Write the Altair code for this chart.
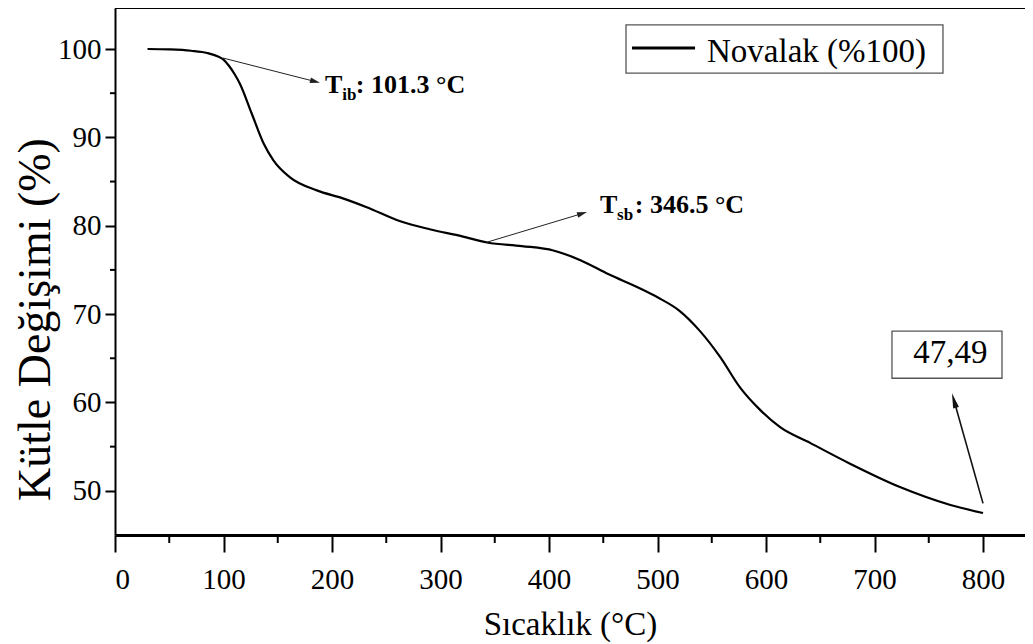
import math
import altair as alt
import pandas as pd

# ---- data ----
temp = [30, 50, 70, 85, 95, 100, 105, 110, 115, 126, 137, 146, 161, 186, 210, 232,
        263, 290, 320, 343, 375, 404, 429, 455, 484, 500, 520, 539, 558, 576, 595,
        613, 641, 677, 724, 770, 800]
mass = [100.0, 99.95, 99.8, 99.55, 99.15, 98.8, 98.1, 97.2, 96.1, 92.7, 89.3, 87.4,
        85.5, 84.0, 83.1, 82.1, 80.5, 79.6, 78.8, 78.1, 77.7, 77.2, 76.1, 74.5, 72.9,
        71.9, 70.4, 68.1, 65.1, 61.7, 59.1, 57.2, 55.4, 53.1, 50.4, 48.4, 47.49]
series_name = "Novalak (%100)"
x_ticks = [0, 100, 200, 300, 400, 500, 600, 700, 800]
x_minor = [50, 150, 250, 350, 450, 550, 650, 750]
y_ticks = [50, 60, 70, 80, 90, 100]
y_minor = [55, 65, 75, 85, 95]

# annotation anchors (data units)
arrow_ib = (99.5, 98.98, 188.9, 96.18)
arrow_sb = (342.9, 78.14, 435.0, 81.54)
arrow_end = (800.0, 48.58, 771.4, 61.04)
final_label = "47,49"

# ---- layout ----
W, H = 910, 527
XMIN, XMAX = 0, 838.7
YMIN, YMAX = 45, 104.64
sx = W / (XMAX - XMIN)
sy = H / (YMAX - YMIN)
FONT = "Liberation Serif"

xs = alt.Scale(domain=[XMIN, XMAX], nice=False, zero=False)
ys = alt.Scale(domain=[YMIN, YMAX], nice=False, zero=False)

df = pd.DataFrame({"t": temp, "m": mass, "s": series_name})

line = alt.Chart(df).mark_line(color="black", strokeWidth=2.2, interpolate="monotone").encode(
    x=alt.X("t:Q", scale=xs, axis=alt.Axis(
        values=x_ticks, title="Sıcaklık (°C)", grid=False,
        domainColor="black", domainWidth=3, tickColor="black", tickWidth=2, tickSize=17,
        labelFont=FONT, labelFontSize=29, labelColor="black", labelPadding=13,
        titleFont=FONT, titleFontSize=33, titleFontWeight="normal", titleColor="black",
        titleX=W / 2, titleY=89, titleBaseline="middle", titleAlign="center")),
    y=alt.Y("m:Q", scale=ys, axis=alt.Axis(
        values=y_ticks, title="Kütle Değişimi (%)", grid=False,
        domainColor="black", domainWidth=2, tickColor="black", tickWidth=2, tickSize=10,
        labelFont=FONT, labelFontSize=29, labelColor="black", labelPadding=4,
        titleFont=FONT, titleFontSize=46, titleFontWeight="normal", titleColor="black",
        titleAngle=270, titleX=-80, titleY=311, titleBaseline="middle", titleAlign="center")),
)

# top frame line
top = alt.Chart(pd.DataFrame({"a": [0]})).mark_rule(color="black", strokeWidth=2).encode(
    x=alt.value(0), x2=alt.value(W), y=alt.value(0))

# minor ticks
xm = alt.Chart(pd.DataFrame({"t": x_minor})).mark_rule(color="black", strokeWidth=2).encode(
    x=alt.X("t:Q", scale=xs), y=alt.value(H), y2=alt.value(H + 8))
ym = alt.Chart(pd.DataFrame({"m": y_minor})).mark_rule(color="black", strokeWidth=2).encode(
    y=alt.Y("m:Q", scale=ys), x=alt.value(0), x2=alt.value(-5))


def arrow(a, head_len, half_w, width, color):
    t0, v0, t1, v1 = a
    dx = (t1 - t0) * sx
    dy = -(v1 - v0) * sy
    L = math.hypot(dx, dy)
    ux, uy = dx / L, dy / L
    ang = math.degrees(math.atan2(dx, -dy)) % 360
    r = head_len / 2
    ct = t1 - r * ux / sx
    cv = v1 + r * uy / sy
    seg = alt.Chart(pd.DataFrame({"t": [t0], "v": [v0], "t2": [ct], "v2": [cv]})).mark_rule(
        color=color, strokeWidth=width).encode(
        x=alt.X("t:Q", scale=xs), y=alt.Y("v:Q", scale=ys), x2="t2:Q", y2="v2:Q")
    shape = f"M0,-1L{half_w},1L-{half_w},1Z"
    head = alt.Chart(pd.DataFrame({"t": [ct], "v": [cv]})).mark_point(
        shape=shape, filled=True, color=color, opacity=1, size=head_len ** 2,
        angle=ang, strokeWidth=0).encode(
        x=alt.X("t:Q", scale=xs), y=alt.Y("v:Q", scale=ys))
    return seg + head


a1 = arrow(arrow_ib, 10, 0.55, 1.0, "#222")
a2 = arrow(arrow_sb, 10, 0.55, 1.0, "#222")
a3 = arrow(arrow_end, 15, 0.4, 1.6, "#111")


def txt(t, v, s, size, bold=True, align="left"):
    return alt.Chart(pd.DataFrame({"t": [t], "v": [v], "s": [s]})).mark_text(
        font=FONT, fontSize=size, fontWeight="bold" if bold else "normal", color="black",
        align=align, baseline="alphabetic").encode(
        x=alt.X("t:Q", scale=xs), y=alt.Y("v:Q", scale=ys), text="s:N")


ann = (txt(193.5, 95.0, "T", 26) + txt(209.5, 94.2, "ib", 17) + txt(222.0, 95.0, ": 101.3 °C", 26)
       + txt(447.0, 81.43, "T", 26) + txt(462.7, 80.63, "sb", 17) + txt(479.0, 81.43, ": 346.5 °C", 26))

# final value box
box = alt.Chart(pd.DataFrame({"t": [716.1], "t2": [817.5], "v": [68.07], "v2": [62.74]})).mark_rect(
    fill="white", stroke="#555", strokeWidth=1.3).encode(
    x=alt.X("t:Q", scale=xs), x2="t2:Q", y=alt.Y("v:Q", scale=ys), y2="v2:Q")
box_txt = txt(770.0, 64.44, final_label, 33, bold=False, align="center")

# legend
leg_box = alt.Chart(pd.DataFrame({"t": [470.97], "t2": [763.1], "v": [102.72], "v2": [97.28]})).mark_rect(
    fill="white", stroke="#555", strokeWidth=1.3).encode(
    x=alt.X("t:Q", scale=xs), x2="t2:Q", y=alt.Y("v:Q", scale=ys), y2="v2:Q")
leg_line = alt.Chart(pd.DataFrame({"t": [476.5], "t2": [534.6], "v": [100.11]})).mark_rule(
    color="black", strokeWidth=3).encode(
    x=alt.X("t:Q", scale=xs), x2="t2:Q", y=alt.Y("v:Q", scale=ys))
leg_txt = txt(545.6, 98.56, series_name, 33, bold=False)

chart = alt.layer(top, xm, ym, line, a1, a2, a3, ann, box, box_txt, leg_box, leg_line, leg_txt).properties(
    width=W, height=H,
    autosize=alt.AutoSizeParams(type="none"),
    padding={"left": 107, "top": 0, "right": 0, "bottom": 108},
).configure_view(stroke=None).configure(font=FONT, background="white")

chart.save("out.html", embed_options={"renderer": "svg", "actions": False})
